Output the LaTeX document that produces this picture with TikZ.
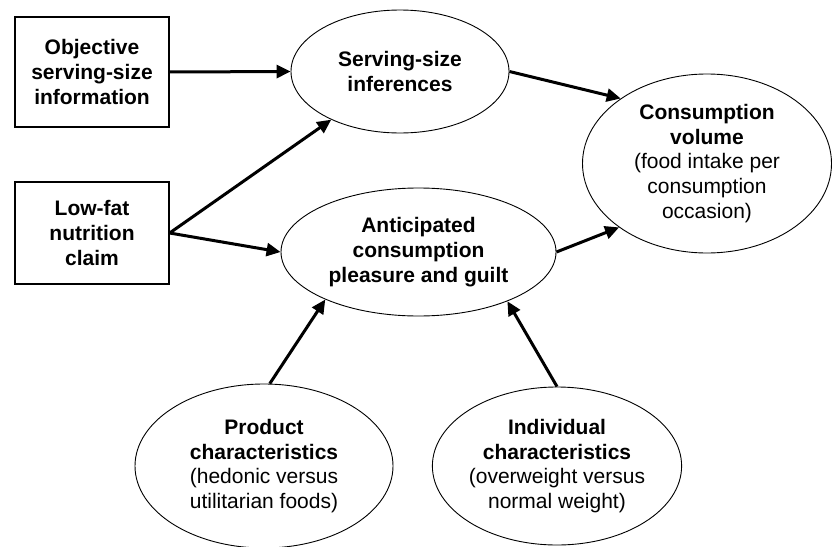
\documentclass[tikz,border=0pt]{standalone}
\usepackage{fontspec}
\setmainfont{Liberation Sans}
\usetikzlibrary{shapes.geometric,arrows.meta}
\begin{document}
\begin{tikzpicture}[x=1pt,y=-1pt,
  every node/.style={font=\fontsize{21}{24.8}\selectfont, align=center, inner sep=0pt},
  boxnode/.style={draw, line width=1.3pt, minimum width=154pt},
  ell/.style={draw, ellipse, line width=0.9pt},
  arr/.style={line width=3pt, -{Triangle[length=14pt,width=13pt]}}]
\path[use as bounding box, clip] (0,0) rectangle (832,546);
\fill[white] (0,0) rectangle (832,546);
\node[boxnode, minimum height=110pt] (b1) at (92,72)
  {\textbf{Objective}\\\textbf{serving-size}\\\textbf{information}};
\node[boxnode, minimum height=102pt] (b2) at (92,233)
  {\textbf{Low-fat}\\\textbf{nutrition}\\\textbf{claim}};
\node[ell, minimum width=218pt, minimum height=123pt] (ss) at (400,71.5)
  {\textbf{Serving-size}\\\textbf{inferences}};
\node[ell, minimum width=275pt, minimum height=128pt] (ac) at (418.5,252)
  {\textbf{Anticipated}\\\textbf{consumption}\\\textbf{pleasure and guilt}};
\node[ell, minimum width=249pt, minimum height=179pt] (cv) at (707,163.5)
  {\textbf{Consumption}\\\textbf{volume}\\(food intake per\\consumption\\occasion)};
\node[ell, minimum width=258pt, minimum height=164pt] (pc) at (264,466)
  {\textbf{Product}\\\textbf{characteristics}\\(hedonic versus\\utilitarian foods)};
\node[ell, minimum width=244pt, minimum height=158pt] (ic) at (557,466)
  {\textbf{Individual}\\\textbf{characteristics}\\(overweight versus\\normal weight)};
\draw[arr] (b1.east) -- (ss.west);
\draw[arr] (b2.east) -- (ss);
\draw[arr] (b2.east) -- (ac.west);
\draw[arr] (ss.east) -- (cv.143);
\draw[arr] (ac.east) -- (cv.216);
\draw[arr] (pc.86) -- (ac.207);
\draw[arr] (ic.north) -- (ac.331);
\end{tikzpicture}
\end{document}
